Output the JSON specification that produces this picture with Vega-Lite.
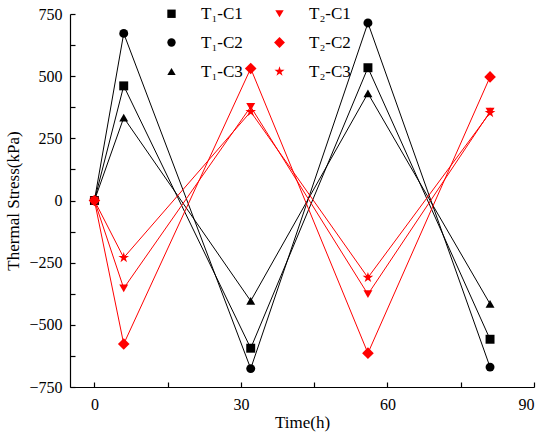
{
  "$schema": "https://vega.github.io/schema/vega-lite/v6.json",
  "width": 464,
  "height": 373,
  "autosize": {"type": "none"},
  "padding": {"left": 70, "top": 14, "right": 16, "bottom": 54},
  "background": "white",
  "config": {
    "view": {"stroke": null},
    "font": "Liberation Serif",
    "axis": {"labelFont": "Liberation Serif", "titleFont": "Liberation Serif", "labelFontSize": 16, "titleFontSize": 17, "titleFontWeight": "normal", "labelColor": "#000", "titleColor": "#000", "domainColor": "#000", "tickColor": "#000", "domainWidth": 1.2, "tickWidth": 1.2, "grid": false},
    "legend": {"labelFont": "Liberation Serif"}
  },
  "data": {"values": [
    {"time": 0, "stress": 0, "series": "T₁-C1"},
    {"time": 6, "stress": 461, "series": "T₁-C1"},
    {"time": 32, "stress": -594, "series": "T₁-C1"},
    {"time": 56, "stress": 534, "series": "T₁-C1"},
    {"time": 81, "stress": -558, "series": "T₁-C1"},
    {"time": 0, "stress": 0, "series": "T₁-C2"},
    {"time": 6, "stress": 672, "series": "T₁-C2"},
    {"time": 32, "stress": -676, "series": "T₁-C2"},
    {"time": 56, "stress": 714, "series": "T₁-C2"},
    {"time": 81, "stress": -670, "series": "T₁-C2"},
    {"time": 0, "stress": 0, "series": "T₁-C3"},
    {"time": 6, "stress": 333, "series": "T₁-C3"},
    {"time": 32, "stress": -404, "series": "T₁-C3"},
    {"time": 56, "stress": 431, "series": "T₁-C3"},
    {"time": 81, "stress": -416, "series": "T₁-C3"},
    {"time": 0, "stress": 0, "series": "T₂-C1"},
    {"time": 6, "stress": -353, "series": "T₂-C1"},
    {"time": 32, "stress": 377, "series": "T₂-C1"},
    {"time": 56, "stress": -377, "series": "T₂-C1"},
    {"time": 81, "stress": 357, "series": "T₂-C1"},
    {"time": 0, "stress": 0, "series": "T₂-C2"},
    {"time": 6, "stress": -577, "series": "T₂-C2"},
    {"time": 32, "stress": 531, "series": "T₂-C2"},
    {"time": 56, "stress": -614, "series": "T₂-C2"},
    {"time": 81, "stress": 497, "series": "T₂-C2"},
    {"time": 0, "stress": 0, "series": "T₂-C3"},
    {"time": 6, "stress": -230, "series": "T₂-C3"},
    {"time": 32, "stress": 357, "series": "T₂-C3"},
    {"time": 56, "stress": -310, "series": "T₂-C3"},
    {"time": 81, "stress": 353, "series": "T₂-C3"}
  ]},
  "encoding": {
    "x": {"field": "time", "type": "quantitative",
      "scale": {"domain": [-5, 90], "nice": false, "zero": false},
      "axis": {"title": "Time(h)", "values": [0, 15, 30, 45, 60, 75, 90],
        "labelFont": "Liberation Serif", "titleFont": "Liberation Serif",
        "labelExpr": "datum.value % 30 === 0 ? datum.label : ''",
        "tickSize": -5,
        "labelPadding": 14, "titlePadding": 2}},
    "y": {"field": "stress", "type": "quantitative",
      "scale": {"domain": [-750, 750], "nice": false},
      "axis": {"title": "Thermal Stress(kPa)", "values": [-750, -625, -500, -375, -250, -125, 0, 125, 250, 375, 500, 625, 750],
        "labelFont": "Liberation Serif", "titleFont": "Liberation Serif",
        "labelExpr": "datum.value % 250 === 0 ? replace(datum.label, '-', '−') : ''",
        "tickSize": -5,
        "labelPadding": 13, "titlePadding": 6}},
    "color": {"field": "series", "type": "nominal",
      "scale": {"domain": ["T₁-C1", "T₂-C1", "T₁-C2", "T₂-C2", "T₁-C3", "T₂-C3"],
        "range": ["#000000", "#ff0000", "#000000", "#ff0000", "#000000", "#ff0000"]},
      "legend": {
        "title": null, "orient": "none", "legendX": 93, "legendY": -9, "columns": 2, "direction": "horizontal",
        "padding": 0, "symbolSize": 70, "labelOffset": 21, "columnPadding": 28, "rowPadding": 11,
        "labelFont": "Liberation Serif", "labelFontSize": 17, "labelColor": "#000", "symbolStrokeWidth": 0, "symbolOpacity": 1
      }
    }
  },
  "layer": [
    {"mark": {"type": "line", "strokeWidth": 1}},
    {"mark": {"type": "point", "filled": true, "opacity": 1, "size": 80},
      "encoding": {
        "shape": {"field": "series", "type": "nominal",
          "scale": {"domain": ["T₁-C1", "T₂-C1", "T₁-C2", "T₂-C2", "T₁-C3", "T₂-C3"],
            "range": ["square", "triangle-down", "circle", "M0,-1.3L1.3,0L0,1.3L-1.3,0Z", "triangle-up", "M0,-1.25L0.28,-0.39L1.19,-0.39L0.45,0.15L0.73,1.01L0,0.48L-0.73,1.01L-0.45,0.15L-1.19,-0.39L-0.28,-0.39Z"]},
          "legend": {
            "title": null, "orient": "none", "legendX": 93, "legendY": -9, "columns": 2, "direction": "horizontal",
            "padding": 0, "symbolSize": 70, "labelOffset": 21, "columnPadding": 28, "rowPadding": 11,
            "labelFont": "Liberation Serif", "labelFontSize": 17, "labelColor": "#000", "symbolStrokeWidth": 0, "symbolOpacity": 1
          }}
      }}
  ]
}
